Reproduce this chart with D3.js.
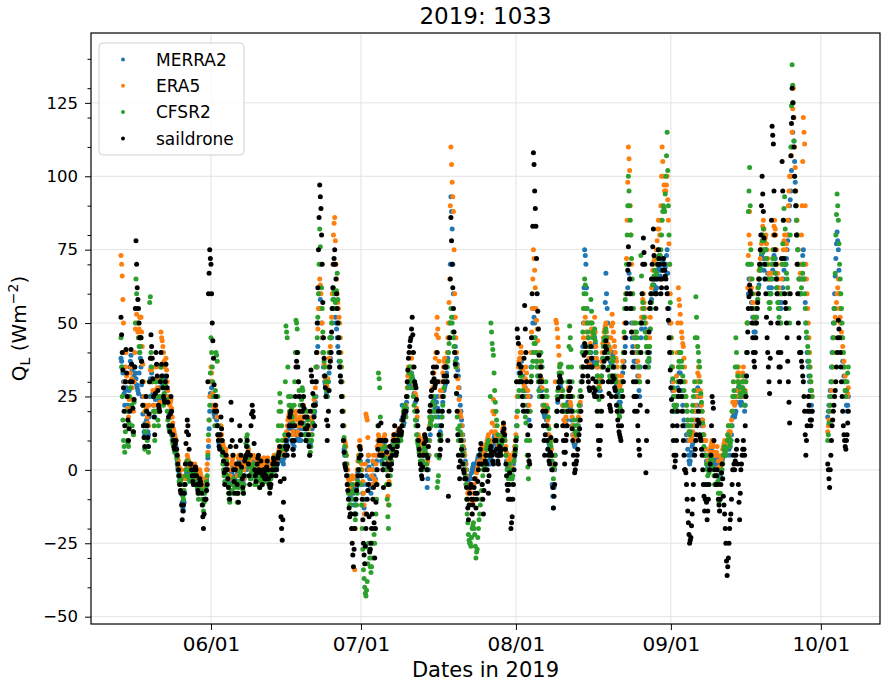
<!DOCTYPE html>
<html>
<head>
<meta charset="utf-8">
<script src="https://cdn.jsdelivr.net/npm/d3@7"></script>
<style>
  body { margin: 0; background: #fff; }
  text { font-family: "DejaVu Sans", sans-serif; }
</style>
</head>
<body>
<div id="wrapper"></div>
<script>
// Q_L values, 3-hourly from 2019-05-14 00:00 UTC (8 per day), 2 days per row
const merra2 = [
  38,37,35,33,30,26,22,27, 30,28,25,22,20,27,35,37,
  39,36,34,31,30,32,35,33, 31,29,28,27,26,33,40,38,
  35,29,25,19,15,13,12,16, 20,17,15,13,12,18,25,31,
  35,33,30,26,22,20,18,24, 30,27,25,22,20,24,28,31,
  35,32,30,29,28,30,32,31, 30,27,25,23,20,19,18,18,
  18,15,12,11,10,9,8,8, 8,5,3,1,0,-1,-3,-4,
  -5,-8,-11,-13,-14,-11,-8,-5, -3,-1,0,2,3,1,0,-1,
  -2,-1,0,-2,-3,-1,1,1, 0,-2,-3,-5,-6,-4,-2,-3,
  -3,-4,-6,-7,-8,-7,-5,-5, -5,-3,0,4,8,14,20,26,
  30,28,25,22,20,19,18,19, 20,17,15,12,10,9,8,10,
  12,10,8,6,5,3,2,3, 5,3,2,0,-2,-4,-5,-4,
  -2,-1,0,1,2,0,-3,-2, 0,-2,-4,-1,2,3,3,2,
  2,0,-2,-4,-5,-3,0,0, 0,2,3,4,5,4,2,0,
  -2,-1,0,2,3,2,0,-2, -3,-2,0,1,2,0,-2,-1,
  0,-1,-2,0,2,1,0,-1, -1,1,2,1,0,-2,-3,-3,
  -2,-1,0,2,3,3,2,1, 0,1,2,3,4,5,5,4,
  3,4,5,3,2,4,6,7, 8,9,10,11,12,14,15,16,
  16,14,12,9,7,8,10,13, 15,13,12,11,10,12,14,12,
  10,12,14,15,16,14,12,12, 12,14,15,12,10,9,8,9,
  10,12,14,16,18,19,20,23, 25,30,35,42,50,55,60,58,
  55,50,45,40,35,32,30,29, 28,26,25,27,30,33,35,38,
  40,45,50,55,60,58,55,52, 50,48,45,42,40,37,35,32,
  30,25,20,15,10,7,5,5, 5,2,0,-2,-5,-7,-8,-9,
  -10,-7,-5,-6,-8,-12,-15,-12, -10,-6,-3,-1,0,3,5,3,
  0,-2,-5,-8,-10,-13,-15,-10, -5,-2,0,3,5,1,-3,-6,
  -8,-5,-3,0,2,-2,-5,-3, 0,3,5,8,10,9,8,6,
  5,3,2,5,8,9,10,7, 5,2,0,1,3,5,6,5,
  5,7,8,9,10,11,12,10, 8,9,10,11,12,11,10,11,
  12,17,22,18,15,16,18,19, 20,23,25,28,30,29,28,29,
  30,33,35,31,28,26,25,23, 20,17,15,12,10,9,8,6,
  5,3,2,5,8,9,10,7, 5,0,-6,-3,0,5,10,12,
  15,18,20,23,25,24,22,21, 20,23,25,21,18,15,12,13,
  15,18,20,23,25,27,28,29, 30,33,35,38,40,45,50,70,
  93,88,82,70,60,52,45,42, 40,38,36,34,32,28,25,22,
  20,17,15,12,10,7,5,3, 2,0,-3,-4,-5,-3,-2,-3,
  -3,-1,0,1,2,1,0,0, 0,2,3,4,5,3,2,4,
  6,4,2,3,4,5,5,5, 5,7,8,5,3,2,2,4,
  5,7,8,9,10,11,12,11, 10,9,8,6,5,7,8,8,
  8,9,10,11,12,11,10,7, 5,3,2,1,0,2,3,2,
  0,-2,-3,0,2,4,5,8, 10,15,20,25,30,33,35,38,
  40,37,35,32,30,27,25,28, 30,27,25,22,20,17,15,25,
  35,40,45,50,55,52,50,45, 40,37,35,32,30,27,25,28,
  30,27,25,22,20,19,18,19, 20,17,15,12,10,9,8,6,
  5,0,-5,-9,-13,-6,0,5, 10,15,20,23,25,28,30,29,
  28,27,25,22,20,17,15,15, 15,17,20,23,25,23,22,21,
  20,17,15,12,10,9,8,9, 10,11,12,13,15,17,20,22,
  25,30,35,42,50,62,75,73, 70,62,55,50,45,42,40,40,
  40,37,35,36,38,42,45,43, 40,37,35,32,30,27,25,27,
  30,32,35,38,40,43,45,57, 67,60,55,50,45,42,40,37,
  35,36,38,39,40,38,35,32, 30,29,28,26,25,23,22,23,
  25,27,30,33,35,37,40,42, 45,50,55,62,70,67,65,60,
  55,50,45,42,40,37,35,37, 40,37,35,32,30,27,25,35,
  45,48,50,52,55,52,50,48, 45,42,40,37,35,37,40,48,
  55,58,60,63,65,63,62,61, 60,62,65,68,70,69,68,66,
  65,68,70,71,72,70,68,69, 70,73,75,67,60,55,50,45,
  40,35,30,27,25,22,20,20, 20,22,25,28,30,33,35,33,
  30,27,25,22,20,17,15,15, 15,12,10,7,5,3,2,3,
  5,6,8,9,10,12,15,17, 20,22,25,28,30,27,25,22,
  20,17,15,12,10,7,5,5, 5,3,2,1,0,2,3,4,
  5,7,8,6,5,3,2,2, 2,4,5,2,0,-2,-3,-2,
  0,2,3,4,5,7,8,7, 5,7,8,9,10,7,5,8,
  10,12,15,18,20,19,18,19, 20,23,25,27,28,27,25,23,
  22,23,25,28,30,25,20,22, 25,32,40,50,60,65,70,65,
  60,57,55,52,50,47,45,47, 50,52,55,58,60,63,65,68,
  70,73,75,74,72,68,65,70, 75,72,70,67,65,62,60,60,
  60,62,65,68,70,73,75,72, 70,67,65,62,60,57,55,55,
  55,57,60,62,65,68,70,70, 70,72,75,78,80,85,90,92,
  95,102,110,115,120,112,105,98, 90,85,80,75,70,65,60,60,
  60,65,70,73,75,70,65,57, 50,45,40,37,35,32,30,27,
  25,22,20,null,null,null,null,null, null,null,null,null,null,null,null,null,
  null,null,null,null,null,null,null,null, null,null,null,18,20,22,25,27,
  30,35,40,45,50,55,60,66, 72,77,81,78,75,68,60,55,
  50,45,40,37,35,32,30,27, 25,22,20,22,25
]
const era5 = [
  73,70,66,58,50,40,30,35, 40,32,25,21,18,24,30,33,
  35,31,28,24,20,30,40,48, 55,53,50,47,45,48,52,52,
  52,47,42,36,30,25,20,22, 25,21,18,16,15,22,30,34,
  38,34,30,27,25,22,20,27, 35,31,28,25,22,22,23,35,
  47,45,44,42,40,37,35,36, 38,34,30,27,25,23,22,23,
  24,21,18,16,14,13,12,11, 10,7,5,4,3,1,0,0,
  0,-2,-5,-7,-8,-5,-3,0, 2,3,5,4,3,1,0,0,
  0,1,2,0,-1,1,2,1, 1,-1,-2,-3,-4,-2,0,-1,
  -2,-3,-5,-6,-6,-4,-3,-3, -3,0,2,6,10,17,25,30,
  35,33,30,26,22,21,20,21, 22,20,18,15,12,11,10,12,
  15,12,10,9,8,6,5,6, 7,5,4,2,0,-2,-3,-2,
  0,2,3,4,5,2,0,1, 2,0,-2,1,4,5,5,4,
  4,2,0,-2,-3,0,2,2, 2,4,5,6,7,5,3,1,
  0,1,2,4,5,4,2,0, -1,0,2,3,4,2,0,1,
  2,1,0,2,4,4,3,2, 1,3,4,4,3,1,0,0,
  0,1,2,3,4,5,5,3, 2,3,4,5,6,7,8,7,
  5,7,8,6,5,8,10,11, 12,13,15,17,18,19,20,20,
  20,17,15,13,12,15,18,19, 20,17,15,13,12,15,18,17,
  15,17,18,20,22,18,15,15, 15,18,20,17,14,12,10,12,
  15,17,18,20,22,24,25,28, 30,35,40,48,55,60,65,63,
  60,55,50,45,40,36,32,31, 30,29,28,31,35,38,40,42,
  45,52,60,70,80,84,86,78, 70,65,60,57,55,52,50,45,
  40,35,30,25,20,15,10,9, 8,5,2,0,-3,-4,-5,-6,
  -8,-5,-2,-3,-5,-20,-34,-20, -5,-2,0,3,5,8,10,8,
  5,2,0,-4,-8,-12,-15,2, 19,18,17,11,5,0,-5,-5,
  -5,-2,0,3,5,-3,-10,-4, 2,5,8,10,12,11,10,9,
  8,6,5,8,10,11,12,8, 5,0,-5,-9,-12,-4,3,4,
  5,6,8,10,12,11,10,10, 10,11,12,13,14,13,12,12,
  12,13,15,17,18,19,20,21, 22,25,28,32,35,33,32,33,
  35,38,40,35,30,29,28,26, 25,21,18,15,12,11,10,9,
  8,6,5,8,10,11,12,10, 8,5,2,3,5,10,15,17,
  20,22,25,28,30,33,35,38, 40,46,52,48,45,37,30,27,
  25,27,30,33,35,37,38,37, 35,37,40,45,50,57,65,90,
  110,104,98,93,88,75,60,52, 45,40,35,31,28,24,20,19,
  18,15,12,10,8,6,5,2, 0,-2,-5,-8,-10,-7,-5,-5,
  -5,-10,-15,-11,-8,-5,-3,-3, -3,-1,0,1,2,3,5,5,
  5,7,8,5,3,4,6,7, 8,9,10,11,12,10,8,9,
  10,13,16,20,24,19,15,13, 12,11,10,9,8,9,10,10,
  10,11,12,14,15,13,12,10, 8,6,5,3,2,3,5,4,
  3,1,0,3,5,6,8,10, 12,18,25,30,35,37,38,40,
  42,40,38,34,30,29,28,31, 35,33,30,27,25,22,20,30,
  40,47,55,65,75,72,68,62, 55,51,48,44,40,37,35,35,
  35,31,28,25,22,21,20,22, 25,22,20,17,15,12,10,10,
  10,7,5,2,0,2,5,30, 51,50,48,45,42,39,36,33,
  30,27,25,22,20,17,15,16, 18,20,22,25,28,27,25,23,
  22,20,18,15,12,11,10,11, 12,13,15,17,18,20,22,23,
  25,30,35,40,45,50,55,52, 50,47,45,42,40,38,36,43,
  50,48,47,46,45,48,52,47, 42,38,35,32,30,29,28,31,
  35,37,40,43,45,47,48,49, 50,47,45,43,42,40,38,41,
  45,49,53,50,47,44,42,40, 38,37,35,32,30,29,28,29,
  30,32,35,37,40,45,50,55, 60,72,85,98,110,106,102,90,
  80,70,60,55,50,47,45,45, 45,42,40,37,35,32,30,40,
  50,52,55,58,60,57,55,52, 50,47,45,42,40,42,45,52,
  60,62,65,68,70,71,72,72, 72,75,78,82,85,82,80,85,
  90,100,110,105,100,97,95,95, 95,97,100,92,85,77,70,60,
  50,45,40,35,30,27,25,25, 25,32,40,50,62,58,56,53,
  50,47,45,43,42,38,35,30, 25,22,20,17,15,12,10,10,
  10,11,12,13,15,17,20,22, 25,27,30,33,35,32,30,27,
  25,22,20,17,15,12,10,10, 10,7,5,3,2,3,5,6,
  8,9,10,9,8,6,5,5, 5,6,8,5,3,1,0,1,
  3,4,5,7,8,9,10,9, 8,9,10,12,15,13,12,13,
  15,17,20,23,25,23,22,23, 25,27,30,33,35,33,32,28,
  25,27,30,33,35,30,25,27, 30,40,50,62,73,80,88,77,
  65,62,60,57,55,52,50,52, 55,57,60,62,65,68,70,72,
  75,77,80,83,85,82,78,79, 80,77,75,72,70,67,65,65,
  65,67,70,75,80,83,85,82, 80,75,70,67,65,62,60,60,
  60,65,70,72,75,78,80,77, 75,77,80,85,90,95,100,100,
  100,107,115,123,130,120,110,103, 95,90,85,80,75,70,65,67,
  70,80,90,105,120,115,111,90, 70,65,60,55,50,45,40,35,
  30,27,25,null,null,null,null,null, null,null,null,null,null,null,null,null,
  null,null,null,null,null,null,null,null, null,null,null,13,15,17,20,22,
  25,27,30,35,40,45,50,52, 55,57,60,62,65,60,55,52,
  50,47,45,42,40,37,35,32, 30,27,25,26,28
]
const cfsr2 = [
  45,35,25,17,10,8,6,13, 20,15,10,9,8,16,25,28,
  30,22,15,13,12,23,35,50, 65,60,55,50,45,42,40,42,
  45,37,30,22,15,11,7,13, 20,15,10,8,6,30,57,59,
  40,35,30,25,20,15,10,20, 30,25,20,17,15,20,25,30,
  35,31,28,25,22,26,30,29, 28,24,20,17,15,14,14,15,
  15,12,10,9,8,7,6,6, 6,4,2,0,-2,-4,-5,-4,
  -3,-5,-8,-9,-10,-7,-5,-2, 0,2,3,0,-2,-3,-4,-3,
  -3,-2,-1,-3,-5,-2,0,-1, -2,-4,-6,-8,-10,-6,-3,-4,
  -5,-7,-10,-12,-14,-11,-8,-7, -6,-4,-2,5,12,17,22,33,
  45,40,35,30,25,20,15,27, 40,39,37,25,15,12,10,10,
  10,7,5,2,0,-2,-4,-1, 3,0,-2,-5,-8,-10,-11,-8,
  -5,-7,-8,-5,-3,-4,-6,-5, -5,-8,-11,-8,-6,-4,-2,-1,
  0,-2,-5,-7,-8,-5,-2,4, 9,11,12,8,4,1,-2,-3,
  -3,-1,0,1,2,-2,-5,-5, -5,-3,-2,-1,0,-3,-6,-4,
  -2,-3,-5,-2,0,-1,-3,-4, -4,-2,0,-1,-2,-4,-6,-5,
  -3,-2,-1,0,2,1,0,0, 0,2,5,10,15,20,26,23,
  20,15,10,7,5,8,12,30, 49,47,45,35,25,22,20,22,
  25,21,18,16,15,22,30,40, 51,50,48,40,30,27,25,22,
  20,24,28,27,25,20,15,12, 10,15,20,17,15,10,5,6,
  8,10,12,16,20,22,25,30, 35,40,45,52,60,70,82,76,
  70,62,55,47,40,37,35,32, 30,27,25,30,35,40,45,45,
  45,50,55,58,62,61,60,57, 55,61,67,58,50,45,40,37,
  35,30,25,20,15,11,8,6, 5,2,-2,-5,-8,-10,-12,-12,
  -12,-8,-5,-7,-10,-15,-20,-17, -15,-12,-8,-4,0,3,5,0,
  -5,-12,-20,-27,-34,-37,-40,-42, -43,-41,-38,-32,-25,-27,-30,-33,
  -35,-33,-30,-25,-20,-22,-25,-20, -15,-10,-5,15,33,31,28,18,
  10,7,5,2,0,4,8,4, 0,-5,-10,-16,-20,-12,-5,-2,
  2,3,5,6,8,9,10,8, 5,6,8,9,10,11,12,11,
  10,12,15,17,20,21,22,20, 18,21,25,28,30,33,35,33,
  30,31,32,28,25,22,20,17, 15,12,10,9,8,6,5,3,
  2,1,0,3,5,7,8,6, 5,2,0,5,10,14,18,16,
  15,17,20,23,25,22,20,18, 15,5,-6,-4,-2,4,10,11,
  12,15,18,22,25,28,30,30, 30,32,35,37,40,43,45,50,
  55,52,50,47,45,42,40,37, 35,26,18,14,10,12,15,13,
  12,10,8,6,5,2,0,-2, -5,-10,-15,-18,-22,-24,-25,-25,
  -26,-23,-20,-19,-18,-20,-22,-26, -30,-28,-27,-23,-20,-17,-15,-12,
  -10,-7,-5,-2,0,1,2,3, 5,7,8,9,10,7,5,25,
  50,47,43,41,39,33,27,23, 20,17,15,12,10,9,8,8,
  8,9,10,11,12,11,10,7, 5,2,0,-2,-3,0,2,0,
  -2,-3,-5,-2,0,3,5,6, 8,11,15,20,25,27,30,32,
  35,32,30,27,25,22,20,18, 16,10,5,1,-3,3,10,20,
  30,32,35,37,40,43,45,43, 40,37,35,32,30,27,25,32,
  40,37,35,30,25,22,20,25, 30,27,25,21,18,14,10,9,
  8,5,3,0,-3,1,5,10, 15,20,25,27,30,33,35,36,
  36,33,30,27,25,22,20,20, 20,22,25,30,35,42,49,45,
  41,35,30,25,20,17,15,13, 12,13,15,17,20,22,25,27,
  30,35,40,47,55,60,65,63, 60,55,50,47,45,42,40,50,
  58,54,50,47,45,46,48,44, 40,36,32,30,28,24,20,25,
  30,32,35,38,42,44,45,47, 48,45,42,40,38,35,32,31,
  30,32,35,37,38,35,32,31, 30,27,25,22,20,19,18,21,
  25,27,30,35,40,47,55,58, 60,70,80,90,100,95,90,85,
  80,72,65,60,55,50,45,47, 50,47,45,42,40,35,30,50,
  73,66,60,57,55,52,50,47, 45,42,40,37,35,38,42,48,
  55,57,60,63,65,66,68,66, 65,67,70,72,75,73,72,73,
  75,80,85,88,90,89,88,94, 100,107,115,102,90,80,70,57,
  45,40,35,31,28,25,22,21, 20,22,25,30,35,37,40,40,
  40,37,35,32,30,27,25,25, 25,22,20,17,15,13,12,13,
  15,17,20,22,25,27,30,45, 59,52,45,42,40,37,35,30,
  26,23,20,16,12,8,5,5, 5,2,0,-2,-5,-1,2,3,
  5,4,3,1,0,-2,-5,-5, -5,-2,0,-4,-8,-11,-14,-8,
  -3,-1,0,2,5,7,8,6, 5,7,10,12,15,11,8,9,
  10,15,20,25,30,27,25,35, 45,40,35,32,30,29,28,26,
  25,26,28,30,32,27,22,26, 30,40,50,70,88,95,103,90,
  75,70,65,60,55,52,50,50, 50,52,55,58,62,65,68,69,
  70,74,78,80,82,78,75,75, 75,72,70,65,60,57,55,57,
  60,65,70,72,75,72,70,67, 65,62,60,57,55,52,50,50,
  50,60,70,77,85,89,93,82, 70,67,65,62,60,55,50,80,
  110,124,138,131,125,112,100,95, 90,85,80,75,70,65,60,60,
  60,62,65,67,70,65,60,55, 50,47,45,42,40,37,35,32,
  30,27,25,null,null,null,null,null, null,null,null,null,null,null,null,null,
  null,null,null,null,null,null,null,null, null,null,null,10,12,16,20,22,
  25,30,35,40,45,50,55,67, 80,87,94,90,85,77,70,65,
  60,55,50,45,40,35,30,27, 25,27,30,33,35
]
const saildrone = [
  52,46,40,34,28,20,15,30, 41,33,25,17,10,14,20,30,
  41,36,30,21,13,24,35,55, 78,70,62,58,55,50,45,45,
  45,37,30,22,15,11,8,15, 25,20,15,11,8,19,30,38,
  46,42,38,31,25,18,12,26, 40,36,32,27,22,21,20,30,
  40,36,32,28,25,24,23,30, 36,32,28,23,18,15,13,19,
  25,20,15,12,10,8,7,9, 10,7,5,2,0,-2,-5,-7,
  -8,-12,-17,-14,-12,-8,-5,2, 9,13,17,15,12,7,2,2,
  2,0,-2,-4,-5,-2,0,1, 0,-2,-5,-7,-8,-5,-3,-4,
  -5,-8,-12,-16,-20,-15,-10,-10, -10,-7,-5,30,60,67,75,72,
  70,60,50,44,38,29,20,22, 25,20,15,12,10,8,7,12,
  18,14,10,6,3,-1,-5,0, 5,2,0,-3,-6,-8,-10,8,
  23,17,10,5,0,-4,-8,0, 8,2,-5,-8,-11,2,15,10,
  5,1,-3,-6,-8,-2,3,4, 5,8,10,6,2,-2,-5,5,
  15,19,22,20,18,9,0,-2, -4,-1,2,4,5,0,-6,-1,
  3,-1,-5,-2,0,-1,-3,-3, -2,1,3,0,-3,-5,-8,-6,
  -5,-2,0,2,4,3,2,0, -2,0,2,4,5,6,8,-4,
  -16,-20,-24,-17,-11,-3,5,8, 10,7,5,8,12,15,18,19,
  20,15,10,7,5,10,15,25, 35,37,40,35,30,25,20,16,
  12,16,20,22,25,21,18,14, 10,14,18,15,12,8,5,20,
  34,32,30,26,22,18,15,22, 30,40,50,62,75,86,97,93,
  89,80,70,57,45,38,32,28, 25,17,10,15,20,27,35,37,
  40,47,55,62,70,72,75,70, 65,60,55,50,45,40,35,32,
  30,25,20,15,10,6,2,1, 0,-2,-5,-7,-10,-13,-16,-15,
  -15,-20,-25,-29,-33,-27,-20,-15, -10,-7,-5,-2,0,4,8,7,
  5,-2,-10,-17,-25,-29,-32,-26, -20,-15,-10,-7,-5,-16,-28,-27,
  -25,-20,-15,-10,-6,-18,-30,-20, -11,-5,0,7,15,10,5,10,
  16,10,5,0,-6,2,10,10, 10,6,2,-2,-5,1,8,4,
  0,2,5,7,10,12,15,10, 5,6,8,10,12,13,14,13,
  12,13,15,17,18,19,20,20, 20,25,30,34,38,40,42,44,
  45,48,52,46,40,35,30,29, 28,24,20,15,10,7,5,2,
  0,-2,-3,1,5,9,12,11, 10,5,0,4,8,14,20,22,
  25,27,30,33,35,31,28,29, 30,35,40,30,20,12,5,7,
  10,15,20,25,30,32,35,35, 35,32,30,10,-9,20,45,65,
  86,78,70,62,55,47,40,36, 32,26,20,12,5,1,-3,3,
  10,7,5,2,0,-1,-3,-3, -3,-6,-10,-13,-17,-12,-8,-6,
  -5,-10,-15,-12,-10,-6,-3,-8, -13,-10,-8,-4,0,2,5,7,
  9,2,-5,-10,-15,-7,0,3, 5,2,0,-4,-8,-2,5,7,
  8,6,5,3,2,6,10,10, 10,7,5,3,2,5,8,6,
  5,7,10,13,16,14,12,7, 2,-2,-5,-7,-10,-5,-1,-10,
  -20,-18,-16,-10,-5,0,5,7, 10,30,48,45,43,36,30,33,
  35,30,25,22,20,38,56,48, 40,30,20,12,5,3,2,15,
  30,45,60,83,108,104,95,89, 83,72,60,54,48,39,30,32,
  35,30,25,20,15,10,5,12, 20,15,10,7,5,3,2,6,
  11,5,0,-6,-13,-9,-5,2, 10,15,20,24,28,30,32,31,
  30,25,20,15,10,6,2,6, 10,12,15,20,25,27,30,28,
  25,20,14,10,5,2,-1,0, 2,3,5,7,10,12,14,17,
  20,25,30,32,35,39,43,42, 40,37,35,32,30,28,27,35,
  42,38,35,31,28,26,25,27, 30,25,20,15,10,7,5,10,
  15,20,25,30,35,37,40,42, 44,41,38,34,30,26,22,21,
  20,25,30,32,35,31,28,27, 25,22,20,17,15,13,12,11,
  10,15,20,25,30,35,40,45, 50,55,60,68,76,70,65,60,
  55,47,40,35,30,25,20,25, 30,25,20,15,10,7,5,22,
  40,50,60,70,79,74,70,35, -1,10,20,30,40,47,55,57,
  60,65,70,76,82,73,65,60, 55,60,65,70,75,72,70,65,
  60,62,65,68,72,70,68,66, 65,62,60,55,51,45,40,34,
  28,24,20,15,10,5,1,3, 5,10,15,20,25,27,30,30,
  30,25,20,15,10,5,0,0, -1,-5,-10,-14,-18,-22,-25,-24,
  -23,-19,-15,-10,-5,0,5,7, 10,12,15,17,20,16,12,11,
  10,7,5,0,-5,-9,-14,-10, -5,-11,-17,-14,-10,-5,0,2,
  5,15,25,23,21,10,0,-2, -5,-2,0,-5,-10,-12,-14,-10,
  -5,-1,2,-3,-9,-12,-15,-20, -25,-31,-36,-33,-30,-25,-20,-17,
  -15,-10,-5,0,5,2,0,3, 5,7,10,2,-5,-11,-17,-8,
  0,2,5,7,10,7,5,15, 25,32,40,47,55,59,63,61,
  60,55,50,45,40,37,35,40, 45,50,55,57,60,65,70,75,
  80,90,100,94,88,79,70,65, 60,52,45,40,35,30,26,38,
  50,85,117,114,111,95,80,75, 70,65,60,50,40,35,30,35,
  40,72,105,95,85,72,60,57, 55,50,45,37,30,23,16,60,
  107,118,130,125,120,110,100,95, 90,80,70,60,50,45,40,40,
  40,37,35,32,30,25,20,12, 5,10,15,20,25,22,20,17,
  15,17,20,null,null,null,null,null, null,null,null,null,null,null,null,null,
  null,null,null,null,null,null,null,null, null,null,null,2,0,-3,-6,0,
  5,10,15,17,20,22,25,27, 30,35,40,45,51,48,45,40,
  35,30,25,20,15,12,10,8, 7,10,12,16,20
]

const seriesNames = ["MERRA2", "ERA5", "CFSR2", "saildrone"]
const seriesColors = ["#1f77b4", "#ff7f0e", "#2ca02c", "#000000"]
const yTicks = [-50, -25, 0, 25, 50, 75, 100, 125]
const yMinorTicks = [-40, -30, -20, -10, 10, 20, 30, 40, 60, 70, 80, 90, 110, 120, 130, 140]
const xTicks = ["2019-06-01", "2019-07-01", "2019-08-01", "2019-09-01", "2019-10-01"]
const startTime = Date.UTC(2019, 4, 14)
const stepHours = 3

function drawScatter() {

    const allSeries = [merra2, era5, cfsr2, saildrone]

    const xAccessor = d => d.time
    const yAccessor = d => d.value

    const dimentions = {
        width: 886,
        height: 686,
        margin: {
            top: 33,
            right: 6,
            bottom: 62,
            left: 91
        }
    }
    dimentions.boundedWidth = dimentions.width - dimentions.margin.left - dimentions.margin.right
    dimentions.boundedHeight = dimentions.height - dimentions.margin.top - dimentions.margin.bottom

    const wrapper = d3.select("#wrapper")
        .append("svg")
        .attr("width", dimentions.width)
        .attr("height", dimentions.height)

    const bounds = wrapper.append("g")
        .attr("transform", `translate(${dimentions.margin.left},${dimentions.margin.top})`)

    const xScale = d3.scaleUtc()
        .domain([new Date(Date.UTC(2019, 4, 8)), new Date(Date.UTC(2019, 9, 12, 20))])
        .range([0, dimentions.boundedWidth])

    const yScale = d3.scaleLinear()
        .domain([-52.5, 148.8])
        .range([dimentions.boundedHeight, 0])

    const xTickDates = xTicks.map(s => new Date(s + "T00:00:00Z"))

    // grid
    const grid = bounds.append("g").attr("stroke", "#e3e3e3").attr("stroke-width", 1)
    grid.selectAll(".gy").data(yTicks).enter().append("line")
        .attr("x1", 0).attr("x2", dimentions.boundedWidth)
        .attr("y1", d => yScale(d)).attr("y2", d => yScale(d))
    grid.selectAll(".gx").data(xTickDates).enter().append("line")
        .attr("y1", 0).attr("y2", dimentions.boundedHeight)
        .attr("x1", d => xScale(d)).attr("x2", d => xScale(d))

    // points, drawn in series order so saildrone ends on top
    allSeries.forEach((values, k) => {
        const points = values
            .map((v, i) => ({ time: new Date(startTime + i * stepHours * 3600e3), value: v }))
            .filter(d => d.value !== null)
        bounds.append("g")
            .selectAll("circle")
            .data(points)
            .enter()
            .append("circle")
            .attr("cx", d => xScale(xAccessor(d)))
            .attr("cy", d => yScale(yAccessor(d)))
            .attr("r", 2.5)
            .attr("fill", seriesColors[k])
    })

    // axes
    const xAxisGenerator = d3.axisBottom(xScale)
        .tickValues(xTickDates)
        .tickFormat(d3.utcFormat("%m/%d"))
        .tickSize(6)
        .tickSizeOuter(0)
        .tickPadding(7)
    const xAxis = bounds.append("g")
        .attr("transform", `translate(0,${dimentions.boundedHeight})`)
        .call(xAxisGenerator)
    xAxis.select(".domain").remove()
    xAxis.selectAll("text").attr("font-size", 20).attr("font-family", "DejaVu Sans").attr("fill", "#000")

    const yAxisGenerator = d3.axisLeft(yScale)
        .tickValues(yTicks)
        .tickFormat(d => d < 0 ? "\u2212" + Math.abs(d) : d)
        .tickSize(6)
        .tickSizeOuter(0)
        .tickPadding(7)
    const yAxis = bounds.append("g").call(yAxisGenerator)
    yAxis.select(".domain").remove()
    yAxis.selectAll("text").attr("font-size", 16.5).attr("font-family", "DejaVu Sans").attr("fill", "#000")

    const yMinor = d3.axisLeft(yScale).tickValues(yMinorTicks).tickSize(3.5).tickFormat("")
    bounds.append("g").call(yMinor).select(".domain").remove()

    // frame
    bounds.append("rect")
        .attr("width", dimentions.boundedWidth)
        .attr("height", dimentions.boundedHeight)
        .attr("fill", "none")
        .attr("stroke", "#000")
        .attr("stroke-width", 1.2)

    // title and labels
    wrapper.append("text")
        .attr("x", dimentions.margin.left + dimentions.boundedWidth / 2)
        .attr("y", 24)
        .attr("text-anchor", "middle")
        .attr("font-size", 23)
        .text("2019: 1033")

    wrapper.append("text")
        .attr("x", dimentions.margin.left + dimentions.boundedWidth / 2)
        .attr("y", 677)
        .attr("text-anchor", "middle")
        .attr("font-size", 21)
        .text("Dates in 2019")

    const yLabel = wrapper.append("text")
        .attr("transform", `translate(26,${dimentions.margin.top + dimentions.boundedHeight / 2}) rotate(-90)`)
        .attr("text-anchor", "middle")
        .attr("font-size", 20)
    yLabel.append("tspan").text("Q")
    yLabel.append("tspan").attr("font-size", 14).attr("dy", 4).text("L")
    yLabel.append("tspan").attr("dy", -4).text(" (Wm")
    yLabel.append("tspan").attr("font-size", 14).attr("dy", -8).text("\u22122")
    yLabel.append("tspan").attr("dy", 8).text(")")

    // legend
    const legend = wrapper.append("g").attr("transform", "translate(99,43)")
    legend.append("rect")
        .attr("width", 145)
        .attr("height", 112)
        .attr("rx", 4)
        .attr("fill", "#fff")
        .attr("fill-opacity", 0.8)
        .attr("stroke", "#d0d0d0")
    const rows = legend.selectAll(".row")
        .data(seriesNames)
        .enter()
        .append("g")
        .attr("transform", (d, i) => `translate(0,${16.5 + i * 26.3})`)
    rows.append("circle")
        .attr("cx", 24)
        .attr("r", 2)
        .attr("fill", (d, i) => seriesColors[i])
    rows.append("text")
        .attr("x", 57)
        .attr("dy", "0.36em")
        .attr("font-size", 17)
        .text(d => d)
}

drawScatter()
</script>
</body>
</html>
